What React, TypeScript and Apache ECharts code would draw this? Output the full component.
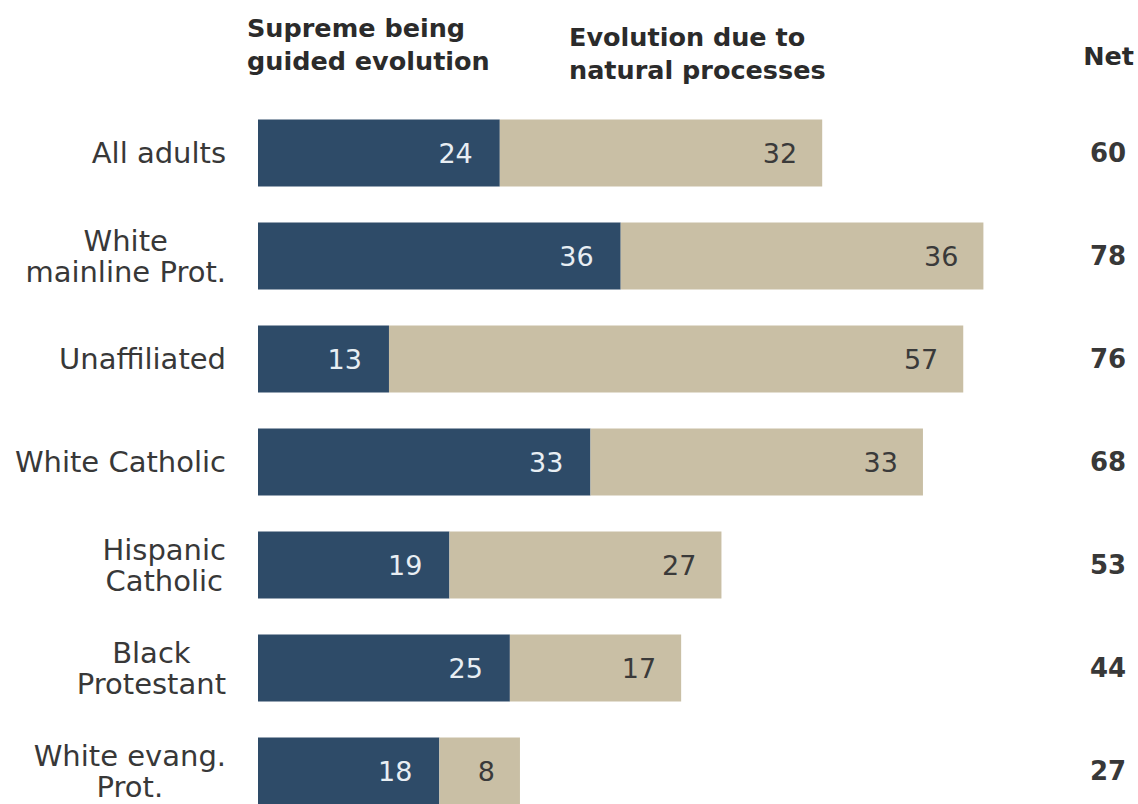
import React, { useEffect, useRef } from "react";
import * as echarts from "echarts";

const categories = [
  "All adults",
  "White\nmainline Prot.",
  "Unaffiliated",
  "White Catholic",
  "Hispanic\nCatholic",
  "Black\nProtestant",
  "White evang.\nProt.",
];
const supremeBeing = [24, 36, 13, 33, 19, 25, 18];
const naturalProcesses = [32, 36, 57, 33, 27, 17, 8];
const netValues = ["60", "78", "76", "68", "53", "44", "27"];
const headerSupreme = ["Supreme being", "guided evolution"];
const headerNatural = ["Evolution due to", "natural processes"];
const headerNet = "Net";

const NAVY = "#2e4b68";
const TAN = "#c9bfa5";
const TEXT = "#383838";
const BODY_FONT = "DejaVu Sans";
const HEAD_FONT = "DejaVu Sans";

const headStyle = (text: string) => ({
  text,
  fontFamily: HEAD_FONT,
  fontWeight: "bold",
  fontSize: 25.5,
  lineHeight: 30,
  fill: "#2b2b2b",
});

export default function App() {
  const ref = useRef<HTMLDivElement>(null);
  useEffect(() => {
    if (!ref.current) return;
    const chart = echarts.init(ref.current, undefined, { renderer: "svg" });
    chart.setOption({
      animation: false,
      backgroundColor: "#ffffff",
      grid: { left: 258, top: 101.5, width: 806, height: 721 },
      xAxis: {
        type: "value",
        min: 0,
        max: 80,
        show: false,
      },
      yAxis: [
        {
          type: "category",
          data: categories,
          inverse: true,
          axisLine: { show: false },
          axisTick: { show: false },
          splitLine: { show: false },
          axisLabel: {
            margin: 32,
            align: "right",
            formatter: (v: string) =>
              v
                .split("\n")
                .map((l) => `{c|${l}}`)
                .join("\n"),
            rich: {
              c: {
                align: "center",
                fontFamily: BODY_FONT,
                fontSize: 29,
                color: TEXT,
                lineHeight: 31,
              },
            },
          },
        },
        {
          type: "category",
          data: netValues,
          inverse: true,
          position: "right",
          axisLine: { show: false },
          axisTick: { show: false },
          splitLine: { show: false },
          axisLabel: {
            margin: 44,
            align: "center",
            fontFamily: BODY_FONT,
            fontWeight: "bold",
            fontSize: 26,
            color: TEXT,
          },
        },
      ],
      series: [
        {
          type: "bar",
          name: "Supreme being guided evolution",
          stack: "total",
          data: supremeBeing,
          barWidth: 67,
          itemStyle: { color: NAVY },
          label: {
            show: true,
            position: "insideRight",
            distance: 27,
            fontFamily: BODY_FONT,
            fontSize: 27,
            color: "#e8eef3",
          },
        },
        {
          type: "bar",
          name: "Evolution due to natural processes",
          stack: "total",
          data: naturalProcesses,
          barWidth: 67,
          itemStyle: { color: TAN },
          label: {
            show: true,
            position: "insideRight",
            distance: 25,
            fontFamily: BODY_FONT,
            fontSize: 27,
            color: "#3a3a3a",
          },
        },
      ],
      graphic: [
        { type: "text", left: 247, top: 12.5, style: headStyle(headerSupreme[0]) },
        { type: "text", left: 247, top: 45.5, style: headStyle(headerSupreme[1]) },
        { type: "text", left: 569, top: 21.5, style: headStyle(headerNatural[0]) },
        { type: "text", left: 569, top: 55, style: headStyle(headerNatural[1]) },
        { type: "text", right: 4, top: 41, style: headStyle(headerNet) },
      ],
    });
    return () => chart.dispose();
  }, []);
  return (
    <div
      style={{
        position: "absolute",
        left: 0,
        top: 0,
        width: 1138,
        height: 804,
        overflow: "hidden",
      }}
    >
      <div ref={ref} style={{ width: 1138, height: 840 }} />
    </div>
  );
}
